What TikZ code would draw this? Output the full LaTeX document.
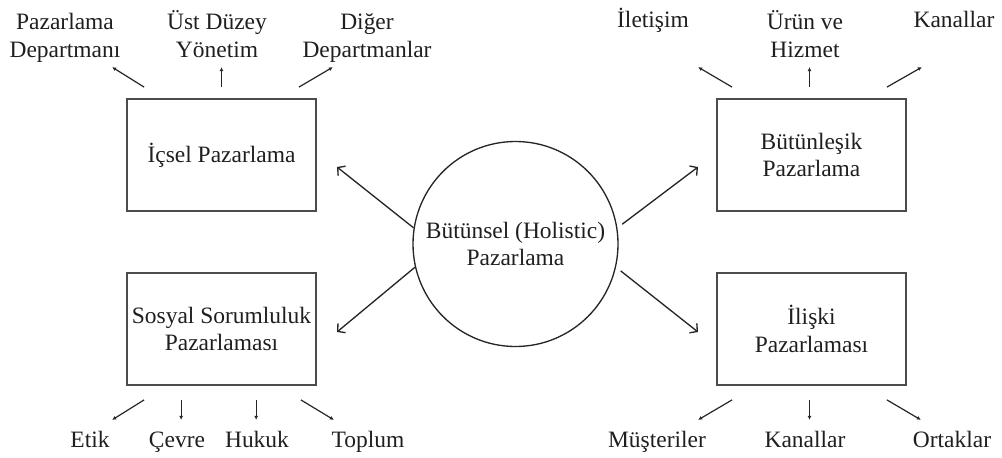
\documentclass[tikz,border=0pt]{standalone}
\usepackage{fontspec}
\setmainfont{Liberation Serif}
\usetikzlibrary{arrows.meta}
\begin{document}
\begin{tikzpicture}[x=0.75pt,y=-0.75pt,
  txt/.style={font=\fontsize{17.6}{20.4}\selectfont, text=black!88, align=center, inner sep=0pt},
  lab/.style={txt, anchor=base},
  box/.style={txt, draw=black!70, line width=1.3pt, minimum width=141.75pt, minimum height=84pt},
  hub/.style={txt, draw=black!85, line width=1pt, circle, minimum size=153.75pt},
  barr/.style={draw=black!85, line width=1pt, -{Straight Barb[length=4pt,width=9pt]}},
  sarr/.style={draw=black!85, line width=0.9pt, -{Latex[length=3pt,width=3pt]}}]
\useasboundingbox (0,0) rectangle (1002,457);

% central circle and boxes
\node[hub] (c) at (515.5,244) {Bütünsel (Holistic)\\Pazarlama};
\node[box] (L1) at (221.5,155) {İçsel Pazarlama};
\node[box] (L2) at (221.5,329) {Sosyal Sorumluluk\\Pazarlaması};
\node[box] (R1) at (811.5,155) {Bütünleşik\\Pazarlama};
\node[box] (R2) at (811.5,329) {İlişki\\Pazarlaması};

% main arrow ends
\coordinate (ul) at (337,167);
\coordinate (ll) at (337,332);
\coordinate (ur) at (698,167);
\coordinate (lr) at (698,332);
\draw[barr] (c.171) -- (ul);
\draw[barr] (c.193) -- (ll);
\draw[barr, shorten <=4.5pt] (c.9) -- (ur);
\draw[barr, shorten <=4.5pt] (c.347) -- (lr);

% labels (base anchor = baseline of the last line)
\node[lab] (t1) at (65,57) {Pazarlama\\Departmanı};
\node[lab] (t2) at (217,57) {Üst Düzey\\Yönetim};
\node[lab] (t3) at (367,57) {Diğer\\Departmanlar};
\node[lab] (t4) at (653,27) {İletişim};
\node[lab] (t5) at (805,57) {Ürün ve\\Hizmet};
\node[lab] (t6) at (954,27) {Kanallar};
\node[lab] (b1) at (90,447) {Etik};
\node[lab] (b2) at (177,447) {Çevre};
\node[lab] (b3) at (257,447) {Hukuk};
\node[lab] (b4) at (368,447) {Toplum};
\node[lab] (b5) at (657,447) {Müşteriler};
\node[lab] (b6) at (805,447) {Kanallar};
\node[lab] (b7) at (952,447) {Ortaklar};

% small arrows, top left
\draw[sarr] (L1.north west) ++(18,-11) -- ++(-32,-20);
\draw[sarr] (L1.north) ++(0,-11) -- ++(0,-20);
\draw[sarr] (L1.north east) ++(-18,-11) -- ++(34,-20);
% top right
\draw[sarr] (R1.north west) ++(16,-11) -- ++(-34,-20);
\draw[sarr] (R1.north) ++(-2,-11) -- ++(0,-20);
\draw[sarr] (R1.north east) ++(-20,-11) -- ++(35,-20);
% bottom left
\draw[sarr] (L2.south west) ++(18,14) -- ++(-32,20);
\draw[sarr] (L2.south west) ++(55,14) -- ++(0,20);
\draw[sarr] (L2.south west) ++(130,14) -- ++(0,20);
\draw[sarr] (L2.south east) ++(-16,14) -- ++(33,20);
% bottom right
\draw[sarr] (R2.south west) ++(16,14) -- ++(-34,20);
\draw[sarr] (R2.south) ++(-2,14) -- ++(0,20);
\draw[sarr] (R2.south east) ++(-20,14) -- ++(34,20);
\end{tikzpicture}
\end{document}
